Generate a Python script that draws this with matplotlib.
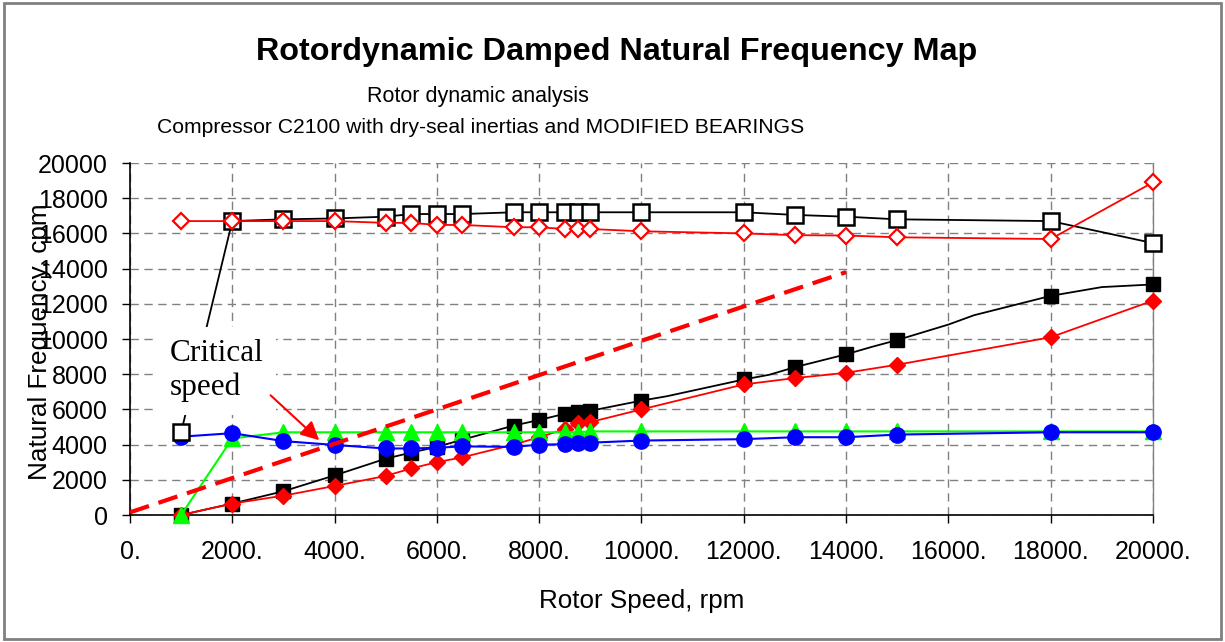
import matplotlib
matplotlib.use('Agg')
import matplotlib.pyplot as plt
from matplotlib.patches import Rectangle

plt.rcParams['font.family'] = ['Liberation Sans', 'DejaVu Sans']

# rotor speeds where the analysis was run (rpm)
speeds = [1000, 2000, 3000, 4000, 5000, 5500, 6000, 6500, 7500, 8000,
          8500, 8750, 9000, 10000, 12000, 13000, 14000, 15000, 18000, 20000]

# damped natural frequencies (cpm)
open_square = [4700, 16700, 16800, 16850, 16950, 17100, 17100, 17100, 17200, 17200,
               17200, 17200, 17200, 17200, 17200, 17050, 16950, 16800, 16700, 15450]
open_diamond = [16700, 16700, 16700, 16700, 16600, 16600, 16480, 16480, 16350, 16350,
                16250, 16250, 16250, 16120, 16000, 15900, 15880, 15780, 15680, 18900]
filled_square = [0, 650, 1350, 2250, 3200, 3550, 3870, 4280, 5080, 5400,
                 5750, 5870, 5920, 6500, 7700, 8400, 9130, 9940, 12450, 13100]
filled_diamond = [0, 650, 1100, 1650, 2220, 2650, 3000, 3280, 4000, 4420,
                  4880, 5200, 5280, 6000, 7420, 7780, 8080, 8540, 10100, 12180]
green_tri = [0, 4350, 4700, 4700, 4700, 4700, 4700, 4700, 4700, 4700,
             4700, 4700, 4750, 4750, 4750, 4750, 4750, 4750, 4750, 4750]
blue_circle = [4450, 4650, 4200, 3980, 3780, 3780, 3820, 3900, 3870, 4000,
               4020, 4100, 4110, 4230, 4310, 4420, 4420, 4570, 4700, 4700]

# the black filled curve is traced through a few extra points between markers
filled_square_line_x = [1000, 2000, 3000, 4000, 5000, 5500, 6000, 6500, 7500, 8000, 8500, 8750, 9000,
                        10000, 10500, 12000, 12500, 13000, 14000, 14500, 15000, 16000, 16500,
                        18000, 19000, 20000]
filled_square_line_y = [0, 650, 1350, 2250, 3200, 3550, 3870, 4280, 5080, 5400, 5750, 5870, 5920,
                        6500, 6750, 7700, 7970, 8400, 9130, 9550, 9940, 10820, 11350,
                        12450, 12950, 13100]

# 1x running speed line
critical_x = [0, 14000]
critical_y = [150, 13800]

x_ticks = [0, 2000, 4000, 6000, 8000, 10000, 12000, 14000, 16000, 18000, 20000]
x_tick_labels = ['0.', '2000.', '4000.', '6000.', '8000.', '10000.', '12000.',
                 '14000.', '16000.', '18000.', '20000.']
y_ticks = [0, 2000, 4000, 6000, 8000, 10000, 12000, 14000, 16000, 18000, 20000]


def draw_map():
    fig = plt.figure(figsize=(12.25, 6.42), dpi=100)
    ax = fig.add_axes([0.1061, 0.1978, 0.8351, 0.5483])

    ax.plot(filled_square_line_x, filled_square_line_y, color='black', lw=1.3, zorder=3)
    ax.plot(speeds, filled_square, linestyle='None', marker='s', ms=10,
            color='black', zorder=3, clip_on=False)
    ax.plot(speeds, filled_diamond, color='red', lw=1.3, marker='D', ms=8,
            zorder=4, clip_on=False)
    ax.plot(speeds, green_tri, color='#00ff00', lw=1.5, marker='^', ms=11,
            zorder=5, clip_on=False)
    ax.plot(speeds, blue_circle, color='blue', lw=1.5, marker='o', ms=11,
            zorder=6, clip_on=False)
    ax.plot(speeds, open_square, color='black', lw=1.3, marker='s', ms=11,
            mfc='white', mec='black', mew=1.8, zorder=7, clip_on=False)
    ax.plot(speeds, open_diamond, color='red', lw=1.3, marker='D', ms=8,
            mfc='white', mec='red', mew=1.6, zorder=8, clip_on=False)
    ax.plot(critical_x, critical_y, color='red', lw=3.0, dashes=(4.8, 2.4),
            zorder=6, clip_on=False)

    ax.text(780, 10000, 'Critical\nspeed', family=['Liberation Serif', 'DejaVu Serif'],
            fontsize=22.5, ha='left', va='top', zorder=9,
            bbox=dict(facecolor='white', edgecolor='none', pad=9))
    ax.annotate('', xy=(3700, 4250), xytext=(2750, 6800), zorder=9,
                arrowprops=dict(arrowstyle='-|>', color='red', lw=1.5,
                                mutation_scale=28, shrinkA=0, shrinkB=0))

    ax.set_xlim(0, 20000)
    ax.set_ylim(0, 20000)
    ax.set_xticks(x_ticks)
    ax.set_xticklabels(x_tick_labels)
    ax.set_yticks(y_ticks)
    ax.tick_params(axis='both', direction='out', length=6, width=1, labelsize=18)
    ax.tick_params(axis='x', pad=12)
    ax.tick_params(axis='y', pad=10)

    ax.grid(True, color='#808080', linestyle=(0, (6, 4)), lw=1)
    ax.set_axisbelow(True)
    ax.spines['top'].set_visible(False)
    ax.spines['right'].set_color('#808080')
    ax.spines['right'].set_linewidth(1)
    ax.spines['left'].set_linewidth(1.2)
    ax.spines['bottom'].set_linewidth(1.2)

    ax.set_xlabel('Rotor Speed, rpm', fontsize=18.7, labelpad=18)
    ax.set_ylabel('Natural Frequency, cpm', fontsize=18.8)
    ax.yaxis.set_label_coords(-0.076, 0.493)

    fig.text(0.5037, 0.919, 'Rotordynamic Damped Natural Frequency Map',
             fontsize=23.3, weight='bold', ha='center', va='center')
    fig.text(0.390, 0.850, 'Rotor dynamic analysis', fontsize=15.5,
             ha='center', va='center')
    fig.text(0.128, 0.802, 'Compressor C2100 with dry-seal inertias and MODIFIED BEARINGS',
             fontsize=15.2, ha='left', va='center')

    fig.patches.append(Rectangle((0.003, 0.004), 0.994, 0.992, transform=fig.transFigure,
                                 fill=False, edgecolor='#808080', lw=2))

    fig.savefig('out.png', dpi=100, facecolor='white')


if __name__ == "__main__":
    draw_map()
